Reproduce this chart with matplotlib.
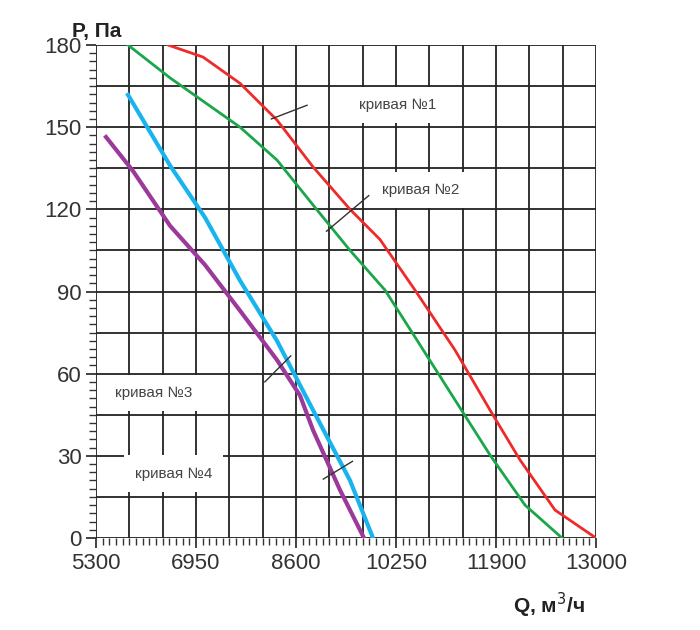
import numpy as np
import matplotlib.pyplot as plt

plt.rcParams['font.family'] = ['Liberation Sans', 'DejaVu Sans']

x_min = 5300
x_max = 13000
step = (x_max - x_min) / 15
tick_labels = ['5300', '6950', '8600', '10250', '11900', '13000']
tick_idx = [0, 3, 6, 9, 12, 15]

q1 = [6409, 6948, 7518, 8087, 8642, 9212, 9673, 10213, 10829, 11368, 11830, 12369, 13000]
p1 = [180, 175.6, 166, 152.6, 135.5, 120, 109, 90.5, 68.6, 46.7, 28.5, 10.2, 0]
q2 = [5793, 6440, 7518, 8087, 8642, 9212, 9751, 10290, 10829, 11368, 11907, 12477]
p2 = [180, 168, 150, 138, 121.6, 105, 90.5, 70.5, 50.4, 30.3, 12, 0]
q3 = [5793, 6440, 6979, 7518, 8087, 8642, 9212, 9566]
p3 = [161.8, 136, 117, 94, 72, 46.7, 21, 0]
q4 = [5454, 5870, 6440, 6979, 7518, 8087, 8442, 8642, 9058, 9427]
p4 = [146.4, 134, 114, 99.7, 83, 65, 52, 39.4, 17.5, 0]

fig = plt.figure(figsize=(7, 6.3), dpi=100)
ax = fig.add_axes([96 / 700, 92 / 630, 500 / 700, 493 / 630])

for k in range(16):
    ax.axvline(x_min + k * step, color='#222222', lw=1.3, zorder=1)
for v in range(0, 181, 15):
    ax.axhline(v, color='#222222', lw=1.3, zorder=1)

ax.plot(q1, p1, color='#ee2a2a', lw=2, zorder=3)
ax.plot(q2, p2, color='#1aa64a', lw=2, zorder=3)
ax.plot(q3, p3, color='#19b4ee', lw=3, zorder=3)
ax.plot(q4, p4, color='#9b3a9b', lw=3, zorder=3)

ax.set_xlim(x_min, x_max)
ax.set_ylim(0, 180)
ax.set_xticks([x_min + k * step for k in tick_idx])
ax.set_xticklabels(tick_labels)
ax.set_xticks(np.arange(x_min, x_max, step / 5), minor=True)
ax.set_yticks(range(0, 181, 30))
ax.set_yticks(range(0, 181, 3), minor=True)
ax.tick_params(axis='both', which='major', labelsize=16, colors='#333333', length=7, width=1.3)
ax.tick_params(axis='both', which='minor', length=5, width=1, color='#333333')
for s in ax.spines.values():
    s.set_visible(False)

box = dict(facecolor='white', edgecolor='none', pad=8)
ax.text(9350, 158, 'кривая №1', fontsize=11, color='#444444', ha='left', va='center', bbox=box, zorder=4)
ax.text(9700, 127, 'кривая №2', fontsize=11, color='#444444', ha='left', va='center', bbox=box, zorder=4)
ax.text(5600, 53, 'кривая №3', fontsize=11, color='#444444', ha='left', va='center', bbox=box, zorder=4)
ax.text(5900, 23.5, 'кривая №4', fontsize=11, color='#444444', ha='left', va='center', bbox=box, zorder=4)
ax.plot([8000, 8550], [153, 158], color='#333333', lw=1, zorder=5)
ax.plot([8850, 9500], [112, 125], color='#333333', lw=1, zorder=5)
ax.plot([8300, 7900], [66.5, 57], color='#333333', lw=1, zorder=5)
ax.plot([9250, 8800], [28, 21.5], color='#333333', lw=1, zorder=5)

fig.text(72 / 700, 1 - 32 / 630, 'P, Па', fontsize=15, fontweight='bold', color='#222222', va='center')
fig.text(585 / 700, 1 - 605 / 630, 'Q, м$^3$/ч', fontsize=15, fontweight='bold', color='#222222', ha='right', va='center')

plt.savefig('out.png')
plt.close()
